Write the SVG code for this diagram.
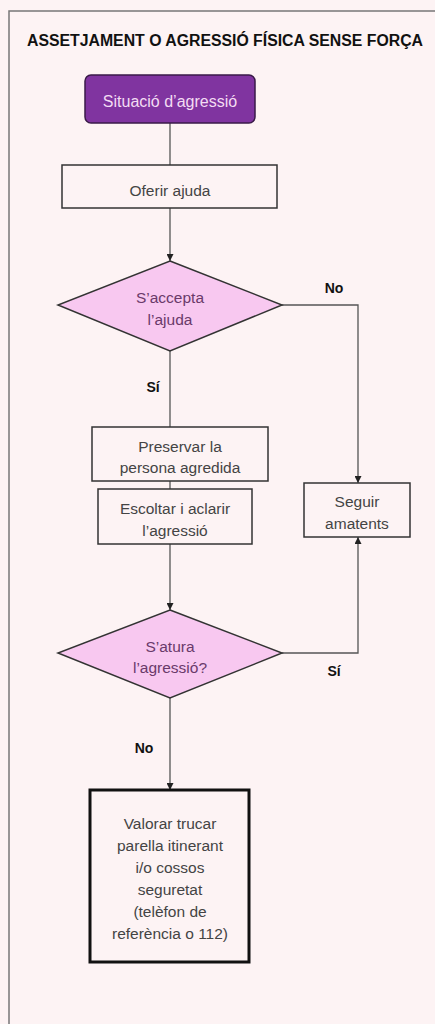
<svg xmlns="http://www.w3.org/2000/svg" width="435" height="1024" viewBox="0 0 435 1024">
<defs>
<marker id="arr" viewBox="0 0 10 10" refX="10" refY="5" markerWidth="7" markerHeight="7" markerUnits="userSpaceOnUse" orient="auto"><path d="M0,0 L10,5 L0,10 Z" fill="#222"/></marker>
<style>
.t{font-family:"Liberation Sans",Arial,sans-serif;font-size:15.5px;fill:#444;text-anchor:middle}
.lb{font-family:"Liberation Sans",Arial,sans-serif;font-size:14px;font-weight:bold;fill:#111;text-anchor:middle}
.box{fill:#fdf3f4;stroke:#333;stroke-width:1.5}
.dia{fill:#f8c8f0;stroke:#333;stroke-width:1.5}
.dt{font-family:"Liberation Sans",Arial,sans-serif;font-size:15.5px;fill:#6a3a6a;text-anchor:middle}
.c{fill:none;stroke:#555;stroke-width:1.3}
</style>
</defs>
<rect width="435" height="1024" fill="#fdf3f4"/>
<path d="M9,1030 L9,11 L440,11" fill="none" stroke="#777" stroke-width="1.5"/>
<text x="225" y="46" font-family="'Liberation Sans',Arial,sans-serif" font-size="16" font-weight="bold" fill="#111" text-anchor="middle" textLength="396" lengthAdjust="spacingAndGlyphs">ASSETJAMENT O AGRESSIÓ FÍSICA SENSE FORÇA</text>

<g id="connectors">
<path class="c" d="M170,123 L170,165"/>
<path class="c" d="M170,208 L170,261" marker-end="url(#arr)"/>
<path class="c" d="M282,305 L358,305 L358,483" marker-end="url(#arr)"/>
<path class="c" d="M170,351 L170,427"/>
<path class="c" d="M170,481 L170,489"/>
<path class="c" d="M170,544 L170,610" marker-end="url(#arr)"/>
<path class="c" d="M282,653 L358,653 L358,537" marker-end="url(#arr)"/>
<path class="c" d="M170,698 L170,790" marker-end="url(#arr)"/>
<text class="lb" x="334" y="293">No</text>
<text class="lb" x="153" y="392">Sí</text>
<text class="lb" x="334" y="676">Sí</text>
<text class="lb" x="144" y="753">No</text>
</g>

<g id="start">
<rect x="85" y="75" width="170" height="48" rx="6" fill="#8034a0" stroke="#3a1a48" stroke-width="1.5"/>
<text class="t" x="170" y="107" style="fill:#f3dcf3;font-size:16px">Situació d’agressió</text>
</g>
<g id="oferir">
<rect class="box" x="62" y="165" width="215" height="43"/>
<text class="t" x="170" y="196">Oferir ajuda</text>
</g>
<g id="accepta">
<polygon class="dia" points="170,261 282,305 170,351 58,305"/>
<text class="dt" x="170" y="303">S’accepta</text>
<text class="dt" x="170" y="325">l’ajuda</text>
</g>
<g id="preservar">
<rect class="box" x="92" y="427" width="176" height="54"/>
<text class="t" x="180" y="452">Preservar la</text>
<text class="t" x="180" y="473">persona agredida</text>
</g>
<g id="escoltar">
<rect class="box" x="98" y="489" width="154" height="55"/>
<text class="t" x="175" y="514">Escoltar i aclarir</text>
<text class="t" x="175" y="536">l’agressió</text>
</g>
<g id="seguir">
<rect class="box" x="304" y="483" width="106" height="54"/>
<text class="t" x="357" y="507">Seguir</text>
<text class="t" x="357" y="529">amatents</text>
</g>
<g id="atura">
<polygon class="dia" points="170,610 282,653 170,698 58,653"/>
<text class="dt" x="170" y="652">S’atura</text>
<text class="dt" x="170" y="673">l’agressió?</text>
</g>
<g id="valorar">
<rect x="90" y="790" width="159" height="172" fill="#fdf3f4" stroke="#111" stroke-width="3"/>
<text class="t" x="170" y="829">Valorar trucar</text>
<text class="t" x="170" y="851">parella itinerant</text>
<text class="t" x="170" y="873">i/o cossos</text>
<text class="t" x="170" y="895">seguretat</text>
<text class="t" x="170" y="917">(telèfon de</text>
<text class="t" x="170" y="939">referència o 112)</text>
</g>
</svg>
